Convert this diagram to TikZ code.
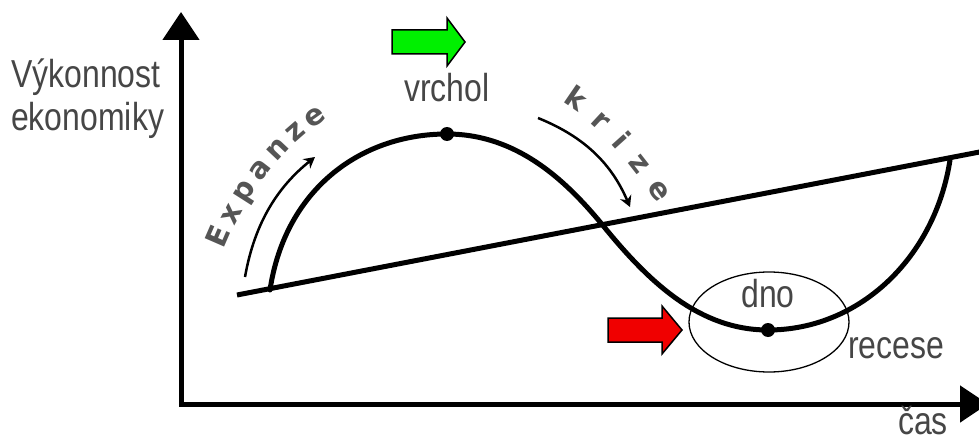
\documentclass[tikz,border=0pt]{standalone}
\usepackage{fontspec}
\setmainfont{Liberation Sans}
\newfontfamily\labelfont[FakeStretch=0.82]{Liberation Sans}
\newfontfamily\phasefont{DejaVu Sans}
\usetikzlibrary{arrows.meta, positioning, shapes.geometric, decorations.text}

\definecolor{upgreen}{RGB}{0,240,0}
\definecolor{downred}{RGB}{240,0,0}
\definecolor{labelgray}{RGB}{70,70,70}
\definecolor{phasegray}{RGB}{85,85,85}

\begin{document}
\begin{tikzpicture}[
  x=1pt, y=-1pt,
  axis/.style={line width=5pt, line join=miter, {Triangle[length=28pt, width=36pt]}-{Triangle[length=28pt, width=36pt]}},
  cycleline/.style={line width=5pt, line cap=round},
  trend/.style={line width=5pt},
  phase/.style={line width=2.5pt, -{Stealth[length=11pt, width=12pt]}},
  lbl/.style={font=\labelfont\fontsize{39}{43}\selectfont, text=labelgray, inner sep=0pt},
  dot/.style={circle, fill=black, inner sep=0pt, minimum size=14pt},
  bigarrow/.style={draw, line width=1.5pt, line join=miter}
]
  \useasboundingbox (0,0) rectangle (979,441);

  % Axes
  \coordinate (origin) at (181,404);
  \coordinate (ytip) at (181,12);
  \coordinate (xtip) at (988,404);
  \draw[axis] (ytip) -- (origin) -- (xtip);
  \node[lbl, anchor=north west, align=left] (ylabel) at (11,59) {Výkonnost\\ekonomiky};
  \node[lbl, anchor=base west] (cas) at (898,434) {čas};

  % Trend line
  \coordinate (trendA) at (237,295);
  \coordinate (trendB) at (990,150);
  \draw[trend] (trendA) -- (trendB);

  % Business cycle
  \coordinate (cstart) at (270,290);
  \coordinate (top) at (447,134);
  \coordinate (cross) at (605,228);
  \coordinate (bottom) at (768,330);
  \coordinate (cend) at (950,160);
  \draw[cycleline] (cstart) .. controls +(15,-100) and +(-87,0) .. (top)
    .. controls +(73,0) and +(-35,-43) .. (cross)
    .. controls +(45,55) and +(-68,0) .. (bottom)
    .. controls +(92,0) and +(-15,97) .. (cend);
  \node[dot] (topdot) at (top) {};
  \node[dot] (bottomdot) at (bottom) {};

  % Phase labels
  \node[lbl, above=25pt of topdot] (vrchol) {vrchol};
  \node[lbl, above=15pt of bottomdot] (dno) {dno};
  \node[lbl, anchor=base west] (recese) at (848,358) {recese};
  \node[draw, ellipse, line width=1.3pt, minimum width=160pt, minimum height=100pt] (dnozone) at (769,322) {};

  % Expanze / krize
  \coordinate (expA) at (245,277);
  \coordinate (expB) at (315,157);
  \draw[phase] (expA) .. controls (255,220) and (280,185) .. (expB);
  \path[decorate, decoration={text along path, text align={fit to path},
    text={|\phasefont\bfseries\fontsize{29}{32}\selectfont\color{phasegray}|Expanze}}]
    (224,250) .. controls (244,200) and (278,150) .. (328,118);
  \coordinate (krizeA) at (538,118);
  \coordinate (krizeB) at (630,207);
  \draw[phase] (krizeA) .. controls (580,135) and (610,160) .. (krizeB);
  \path[decorate, decoration={text along path, text align={fit to path},
    text={|\phasefont\bfseries\fontsize{29}{32}\selectfont\color{phasegray}|krize}}]
    (562,102) .. controls (598,124) and (628,160) .. (658,204);

  % Signal arrows
  \filldraw[bigarrow, fill=upgreen] (392,30) -- (447,30) -- (447,18) -- (465,42)
    -- (447,66) -- (447,54) -- (392,54) -- cycle;
  \filldraw[bigarrow, fill=downred] (608,318) -- (662,318) -- (662,306) -- (682,330)
    -- (662,354) -- (662,342) -- (608,342) -- cycle;
\end{tikzpicture}
\end{document}
